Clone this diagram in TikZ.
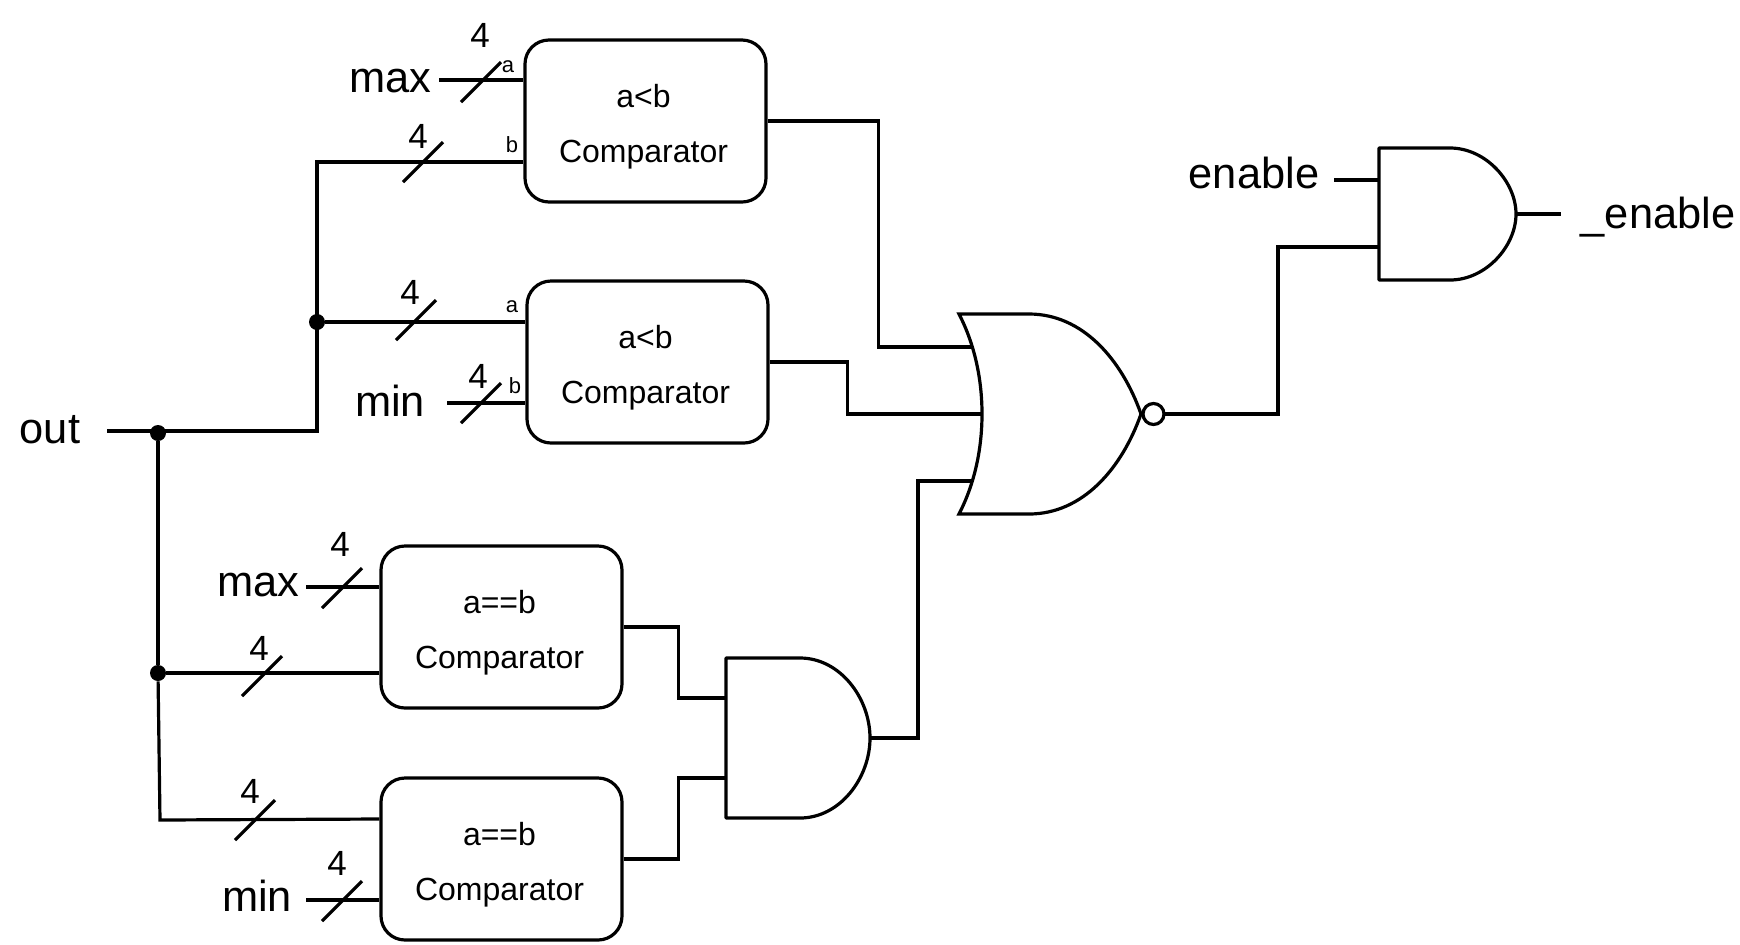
\documentclass[tikz,border=0pt]{standalone}
\usepackage{fontspec}
\setmainfont{Liberation Sans}
\usetikzlibrary{positioning, calc}
\newcommand{\cmplines}[1]{\rule{0pt}{17.7pt}#1\kern2pt\\Comparator\kern2pt}

\begin{document}
\begin{tikzpicture}[
  x=0.5pt, y=-0.5pt,
  wire/.style={line width=1.6pt, black, line join=miter},
  comparator/.style={rectangle, draw=black, line width=1.6pt, rounded corners=12pt,
                     minimum width=120.5pt, minimum height=81pt, inner sep=0pt,
                     align=center, font=\fontsize{16}{27.5}\selectfont},
  gatebox/.style={rectangle, inner sep=0pt, outer sep=0pt},
  junction/.style={circle, fill=black, inner sep=0pt, minimum size=8pt},
  bubble/.style={circle, draw=black, fill=white, line width=1.6pt, inner sep=0pt, minimum size=10.5pt, outer sep=0pt},
  signal/.style={anchor=base, inner sep=0pt, font=\fontsize{21.7}{24}\selectfont},
  buswidth/.style={anchor=base, inner sep=0pt, font=\fontsize{17.5}{20}\selectfont},
  port/.style={anchor=base, inner sep=0pt, font=\fontsize{11}{13}\selectfont},
  busmark/.style={rectangle, inner sep=0pt, outer sep=0pt, minimum size=20pt},
]
\useasboundingbox (0,0) rectangle (1740,944);

% comparators
\node[comparator] (cmplta) at (645.5,121) {\cmplines{a<b}};
\node[comparator, below=37.9pt of cmplta, xshift=1pt] (cmpltb) {\cmplines{a<b}};
\node[comparator] (cmpeqa) at (501.5,627) {\cmplines{a==b}};
\node[comparator, below=33.4pt of cmpeqa] (cmpeqb) {\cmplines{a==b}};

% gates
\node[gatebox, minimum width=72pt, minimum height=80pt] (andlow) at (798,738) {};
\node[gatebox, minimum width=91pt, minimum height=100pt] (norgate) at (1050,414) {};
\node[gatebox, minimum width=68.5pt, minimum height=66pt] (andout) at (1447.5,214) {};

\draw[wire, line join=round] (andlow.north west) -- ++(74,0)
  .. controls ($(andlow.north east)+(-30,0)$) and ($(andlow.east)+(0,-40)$) .. (andlow.east)
  .. controls ($(andlow.east)+(0,40)$) and ($(andlow.south east)+(-30,0)$) .. ($(andlow.south west)+(74,0)$)
  -- (andlow.south west) -- cycle;
\draw[wire, line join=round] (andout.north west) -- ++(71,0)
  .. controls ($(andout.north east)+(-30,0)$) and ($(andout.east)+(0,-32)$) .. (andout.east)
  .. controls ($(andout.east)+(0,32)$) and ($(andout.south east)+(-30,0)$) .. ($(andout.south west)+(71,0)$)
  -- (andout.south west) -- cycle;
\draw[wire, line join=miter] (norgate.north west) -- ++(70,0)
  .. controls ($(norgate.north east)+(-58,0)$) and ($(norgate.east)+(-19,-54)$) .. (norgate.east)
  .. controls ($(norgate.east)+(-19,54)$) and ($(norgate.south east)+(-58,0)$) .. ($(norgate.south west)+(70,0)$)
  -- (norgate.south west)
  .. controls ($(norgate.south west)+(16,-31)$) and ($(norgate.west)+(23,34)$) .. ($(norgate.west)+(23,0)$)
  .. controls ($(norgate.west)+(23,-34)$) and ($(norgate.north west)+(16,31)$) .. (norgate.north west) -- cycle;
\node[bubble, right=0pt of norgate.east, xshift=1pt] (norbubble) {};

% free ends and pins
\coordinate (outstart) at (107,431);
\coordinate (maxstarta) at (439,80);
\coordinate (minstarta) at (447,403);
\coordinate (maxstartb) at (306,587);
\coordinate (minstartb) at (306,900);
\coordinate (enstart) at (1334,180);
\coordinate (norina) at ($(norgate.west)+(13,-67)$);
\coordinate (norinb) at ($(norgate.west)+(23,0)$);
\coordinate (norinc) at ($(norgate.west)+(13,67)$);
\coordinate (andlowa) at ($(andlow.west)+(0,-40)$);
\coordinate (andlowb) at ($(andlow.west)+(0,40)$);
\coordinate (andouta) at ($(andout.west)+(0,-33)$);
\coordinate (andoutb) at ($(andout.west)+(0,33)$);

% junctions
\node[junction] (jout) at (158,433) {};
\node[junction] (jup) at (317,322) {};
\node[junction] (jdown) at (158,673) {};

% wires
\draw[wire] (outstart) -- ++(210,0) |- ($(cmplta.west)+(0,41)$);
\draw[wire] (jup) -- (jup -| cmpltb.west);
\draw[wire] (maxstarta) -- (maxstarta -| cmplta.west);
\draw[wire] (minstarta) -- (minstarta -| cmpltb.west);
\draw[wire] (jout) -- (jdown);
\draw[wire] (jdown) -- (jdown -| cmpeqa.west);
\draw[wire] (jdown) -- (160,820) -- ($(cmpeqb.west)+(0,-40)$);
\draw[wire] (maxstartb) -- (maxstartb -| cmpeqa.west);
\draw[wire] (minstartb) -- (minstartb -| cmpeqb.west);
\draw[wire] (cmplta.east) -- ++(111,0) |- (norina);
\draw[wire] (cmpltb.east) -- ++(78,0) |- (norinb);
\draw[wire] (andlow.east) -- ++(48,0) |- (norinc);
\draw[wire] (cmpeqa.east) -- ++(55,0) |- (andlowa);
\draw[wire] (cmpeqb.east) -- ++(55,0) |- (andlowb);
\draw[wire] (norbubble.east) -- ++(114,0) |- (andoutb);
\draw[wire] (enstart) -- (enstart -| andout.west);
\draw[wire] (andout.east) -- ++(45,0);

% bus marks with widths
\foreach \n/\mx/\my/\lx/\ly in {a/481/82/480/47, b/423/162/418/148, c/416/320/410/304,
    d/481/403/478/388, e/342/588/340/556, f/262/676/259/660, g/255/820/250/803, h/342/901/337/875} {
  \node[busmark] (mark\n) at (\mx,\my) {};
  \draw[wire] (mark\n.south west) -- (mark\n.north east);
  \node[buswidth] (width\n) at (\lx,\ly) {4};
}

% labels
\node[signal] (outlbl) at (50,443) {out};
\node[signal] (maxlbla) at (390,92) {max};
\node[signal] (minlbla) at (390,416) {min};
\node[signal] (maxlblb) at (258,596) {max};
\node[signal] (minlblb) at (257,911) {min};
\node[signal] (enlbl) at (1254,188) {enable};
\node[signal] (enoutlbl) at (1658,228) {\_enable};
\node[port] (porta) at (508,72) {a};
\node[port] (portb) at (512,152) {b};
\node[port] (portc) at (512,312) {a};
\node[port] (portd) at (515,393) {b};

\end{tikzpicture}
\end{document}
